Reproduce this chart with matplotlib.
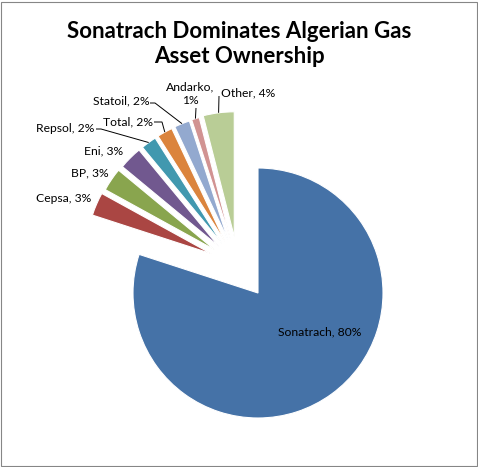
import numpy as np
import matplotlib
matplotlib.use("Agg")
import matplotlib.pyplot as plt
from matplotlib.patches import Rectangle

categories = ["Sonatrach", "Cepsa", "BP", "Eni", "Repsol", "Total", "Statoil", "Andarko", "Other"]
values = [80, 3, 3, 3, 2, 2, 2, 1, 4]
colors = ["#4572A7", "#AA4643", "#89A54E", "#71588F", "#4198AF",
          "#DB843D", "#93A9CF", "#D19392", "#B9CD96"]
title = "Sonatrach Dominates Algerian Gas\nAsset Ownership"

W, H = 478, 467
plt.rcParams['font.family'] = ['Lato', 'DejaVu Sans']
fig = plt.figure(figsize=(W / 100, H / 100), dpi=100)
ax = fig.add_axes([0, 0, 1, 1])

cx, cy, R = 258, H - 293, 125
wedges, _ = ax.pie(values, startangle=90, counterclock=False, radius=R,
                   center=(cx, cy), colors=colors, frame=True,
                   wedgeprops=dict(edgecolor='white', linewidth=0.8))
ax.set_xlim(0, W)
ax.set_ylim(0, H)
ax.set_aspect('auto')
ax.axis('off')

# explode small slices (directions compressed toward the group's middle)
group_mid = (wedges[1].theta2 + wedges[-1].theta1) / 2.0
shift = 61
outer_pts = {}
for name, w in zip(categories[1:], wedges[1:]):
    mid = (w.theta1 + w.theta2) / 2.0
    d = np.deg2rad(group_mid + 0.455 * (mid - group_mid))
    nx, ny = cx + shift * np.cos(d), cy + shift * np.sin(d)
    w.set_center((nx, ny))
    m = np.deg2rad(mid)
    outer_pts[name] = (nx + R * np.cos(m), ny + R * np.sin(m))

fs = 8.7
lab_pos = {
    "Sonatrach": (320, 332), "Cepsa": (63.5, 199), "BP": (89.5, 173),
    "Eni": (104, 151), "Repsol": (65.5, 128), "Total": (128, 122),
    "Statoil": (121, 101), "Andarko": (190, 94), "Other": (248, 93),
}
for name, v in zip(categories, values):
    x, y = lab_pos[name]
    txt = f"{name},\n{v}%" if name == "Andarko" else f"{name}, {v}%"
    ax.text(x, H - y, txt, ha='center', va='center', fontsize=fs,
            color='#000000', linespacing=1.3)

# leader lines (start points in pixel coords, y down)
leaders = {
    "Repsol": [(96, 129), (101, 129)],
    "Total": [(154, 122), (162, 122)],
    "Statoil": [(150, 103), (155, 103)],
    "Andarko": [(196, 108)],
    "Other": [(219, 96)],
}
for name, pts in leaders.items():
    xs = [p[0] for p in pts] + [outer_pts[name][0]]
    ys = [H - p[1] for p in pts] + [outer_pts[name][1]]
    ax.plot(xs, ys, color='#000000', lw=0.7, solid_capstyle='butt')

fig.text(0.5, 1 - 44 / H, title, ha='center', va='center', fontsize=16,
         fontweight='bold', color='#000000', linespacing=1.25)

fig.patches.append(Rectangle((0.5 / W, 1.5 / H), (W - 2) / W, (H - 3) / H,
                             transform=fig.transFigure, fill=False,
                             edgecolor='#868686', lw=0.8))

fig.savefig("out.png", dpi=100)
